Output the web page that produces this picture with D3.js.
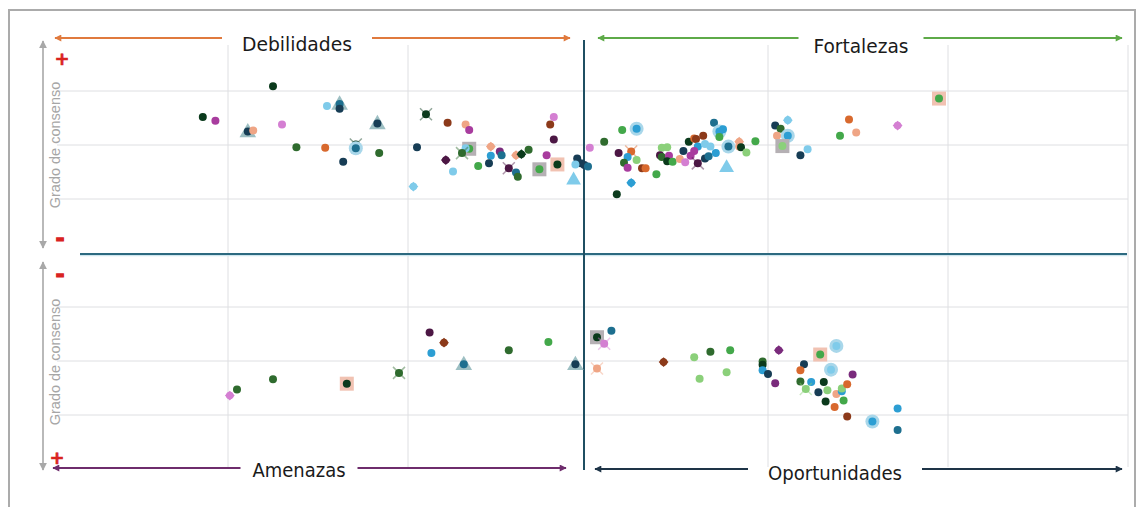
<!DOCTYPE html>
<html><head><meta charset="utf-8">
<script src="https://cdn.jsdelivr.net/npm/d3@7"></script>
<style>html,body{margin:0;padding:0;background:#fff;overflow:hidden}svg{display:block}</style>
</head><body>
<svg id="chart" width="1139" height="507"></svg>
<script>
// ---------- DATA ----------
// [position, consensus, series, marker]
const seriesKeys = ["dg","mg","g","lg","nv","tl","sb","lb","mag","pk","dp","pu","or","br","sa"];
const seriesColors = ["#0B3A1C","#2F6B2E","#43A84A","#8BD07A","#173D55","#1D6F8F","#2C9ED3","#7FCBEA","#A83C9E","#D47FD2","#4C1744","#7A2B7C","#D8692E","#8C3A1A","#EFA585"];

const debilidades = [
  [-1.75,3.09,"dg","o"],[-2.14,2.52,"dg","o"],[-2.07,2.45,"mag","o"],[-1.89,2.25,"nv","t"],[-1.86,2.27,"sa","o"],
  [-1.70,2.38,"pk","o"],[-1.45,2.72,"lb","o"],[-1.38,2.76,"tl","t"],[-1.38,2.67,"nv","o"],[-1.17,2.40,"nv","t"],
  [-1.62,1.96,"mg","o"],[-1.46,1.95,"or","o"],[-1.29,2.01,"dg","x"],[-1.29,1.94,"tl","h"],[-1.16,1.85,"mg","o"],
  [-1.36,1.69,"nv","o"],[-0.90,2.57,"dg","x"],[-0.95,1.96,"nv","o"],[-0.97,1.23,"lb","d"],[-0.78,2.41,"br","o"],
  [-0.68,2.38,"sa","o"],[-0.66,2.28,"mag","o"],[-0.66,1.93,"g","s"],[-0.68,1.94,"lb","o"],[-0.70,1.85,"mg","x"],
  [-0.79,1.72,"dp","d"],[-0.75,1.51,"lb","o"],[-0.61,1.61,"g","o"],[-0.54,1.97,"sa","d"],[-0.54,1.80,"sb","o"],
  [-0.55,1.66,"nv","o"],[-0.49,1.88,"pu","o"],[-0.48,1.81,"tl","o"],[-0.44,1.57,"dp","x"],[-0.40,1.49,"tl","o"],
  [-0.39,1.41,"mg","o"],[-0.40,1.81,"sa","d"],[-0.37,1.83,"dg","d"],[-0.33,1.91,"mg","o"],[-0.27,1.55,"g","s"],
  [-0.17,1.64,"dg","S"],[-0.19,2.52,"pk","o"],[-0.21,2.38,"br","o"],[-0.19,2.10,"dp","o"],[-0.23,1.81,"mag","o"],
  [-0.08,1.35,"lb","T"],[-0.06,1.75,"nv","o"],[-0.04,1.66,"nv","o"],[-0.07,1.64,"lb","o"],[-0.02,1.63,"nv","o"]
];
const fortalezas = [
  [0.00,1.60,"tl","o"],[0.01,1.95,"pk","o"],[0.09,2.06,"mg","o"],[0.19,2.28,"g","o"],[0.27,2.30,"sb","h"],
  [0.17,1.85,"dp","o"],[0.24,1.88,"or","x"],[0.22,1.78,"sb","o"],[0.27,1.72,"lg","o"],[0.20,1.67,"mg","o"],
  [0.22,1.58,"mag","o"],[0.30,1.57,"br","o"],[0.32,1.57,"or","o"],[0.24,1.30,"sb","d"],[0.16,1.09,"dg","o"],
  [0.38,1.46,"g","o"],[0.41,1.95,"lg","o"],[0.44,1.96,"lg","o"],[0.40,1.81,"dp","o"],[0.41,1.78,"mg","o"],
  [0.45,1.80,"mag","o"],[0.44,1.70,"dg","o"],[0.47,1.69,"g","o"],[0.53,1.89,"nv","o"],[0.51,1.74,"sa","o"],
  [0.56,2.06,"dg","o"],[0.59,2.12,"or","o"],[0.60,2.11,"br","o"],[0.64,2.17,"br","o"],[0.61,1.97,"sb","o"],
  [0.59,1.89,"mag","o"],[0.57,1.80,"mag","o"],[0.54,1.68,"pk","o"],[0.61,1.66,"dp","x"],[0.65,2.02,"lb","o"],
  [0.68,1.97,"lb","o"],[0.65,1.75,"nv","o"],[0.67,1.79,"tl","o"],[0.71,1.85,"sb","o"],[0.70,2.41,"tl","o"],
  [0.73,2.25,"sb","h"],[0.75,2.29,"sb","o"],[0.73,2.15,"g","o"],[0.77,1.58,"lb","T"],[0.78,1.97,"tl","h"],
  [0.84,2.06,"sa","d"],[0.84,1.97,"sa","o"],[0.85,1.96,"dg","o"],[0.88,1.86,"lg","o"],[0.93,2.07,"g","o"],
  [1.04,2.36,"nv","o"],[1.07,2.30,"mg","o"],[1.11,2.46,"lb","d"],[1.11,2.17,"sb","h"],[1.05,2.17,"sa","o"],
  [1.08,1.98,"lg","s"],[1.22,1.92,"lb","o"],[1.18,1.81,"nv","o"],[1.45,2.47,"or","o"],[1.40,2.17,"g","o"],
  [1.49,2.23,"sa","o"],[1.72,2.36,"pk","d"],[1.95,2.86,"g","S"]
];
const amenazas = [
  [-1.99,2.64,"pk","d"],[-1.95,2.53,"mg","o"],[-1.75,2.34,"mg","o"],[-1.34,2.42,"dg","S"],[-1.05,2.22,"mg","x"],
  [-0.88,1.47,"dp","o"],[-0.87,1.85,"sb","o"],[-0.80,1.66,"br","d"],[-0.69,2.06,"tl","t"],[-0.44,1.80,"mg","o"],
  [-0.22,1.65,"g","o"],[-0.07,2.06,"nv","t"]
];
const oportunidades = [
  [0.05,1.56,"dg","s"],[0.09,1.68,"pk","x"],[0.05,2.14,"sa","x"],[0.13,1.44,"tl","o"],[0.42,2.02,"br","d"],
  [0.59,1.93,"lg","o"],[0.68,1.83,"mg","o"],[0.79,1.80,"g","o"],[0.62,2.33,"lg","o"],[0.77,2.21,"lg","o"],
  [0.97,2.01,"mg","o"],[0.97,2.07,"dg","o"],[0.97,2.17,"sb","o"],[1.00,2.24,"nv","o"],[1.04,2.41,"pu","o"],
  [1.06,1.80,"pu","d"],[1.29,1.88,"g","S"],[1.38,1.72,"lb","h"],[1.35,2.16,"lb","h"],[1.20,2.06,"nv","o"],
  [1.18,2.17,"or","o"],[1.18,2.38,"mg","o"],[1.24,2.39,"sb","o"],[1.31,2.39,"dg","o"],[1.21,2.52,"lg","x"],
  [1.28,2.58,"nv","o"],[1.33,2.54,"lg","o"],[1.38,2.61,"sa","o"],[1.41,2.56,"sb","o"],[1.41,2.51,"lg","o"],
  [1.44,2.43,"or","o"],[1.47,2.25,"pu","o"],[1.42,2.73,"g","o"],[1.32,2.75,"dg","o"],[1.37,2.85,"or","o"],
  [1.44,3.03,"br","o"],[1.58,3.12,"sb","h"],[1.72,2.88,"sb","o"],[1.72,3.28,"tl","o"]
];
const xGridTicks = [-2,-1,1,2,3];
const yGridTicks = [1,2,3];
const quadrantLabels = ["Debilidades","Fortalezas","Amenazas","Oportunidades"];
const axisTitle = "Grado de consenso";

// ---------- LAYOUT ----------
const svg = d3.select("#chart");
const color = d3.scaleOrdinal().domain(seriesKeys).range(seriesColors);
const x = d3.scaleLinear().domain([-3,3]).range([48,1128]);
const yUp = d3.scaleLinear().domain([0,4]).range([253,37]);
const yLow = d3.scaleLinear().domain([0,4]).range([253,469]);

// frame
svg.append("rect").attr("x",9).attr("y",10).attr("width",1126).attr("height",540)
  .attr("fill","#fff").attr("stroke","#ABABAB").attr("stroke-width",2);

// grid
const grid = svg.append("g");
grid.selectAll(".vg").data(xGridTicks).join("line")
  .attr("x1",d=>x(d)).attr("x2",d=>x(d)).attr("y1",45).attr("y2",467)
  .attr("stroke","#DEDFE2").attr("stroke-width",1);
grid.selectAll(".hgu").data(yGridTicks).join("line")
  .attr("x1",57).attr("x2",1128).attr("y1",d=>yUp(d)).attr("y2",d=>yUp(d))
  .attr("stroke","#DEDFE2").attr("stroke-width",1);
grid.selectAll(".hgl").data(yGridTicks).join("line")
  .attr("x1",57).attr("x2",1128).attr("y1",d=>yLow(d)).attr("y2",d=>yLow(d))
  .attr("stroke","#DEDFE2").attr("stroke-width",1);

// arrow markers
const defs = svg.append("defs");
function mk(id,col,w,h){
  defs.append("marker").attr("id",id).attr("viewBox","0 0 10 10").attr("refX",9).attr("refY",5)
    .attr("markerWidth",w).attr("markerHeight",h).attr("orient","auto-start-reverse")
    .attr("markerUnits","userSpaceOnUse")
    .append("path").attr("d","M0,0L10,5L0,10Z").attr("fill",col);
}
mk("aO","#E07A3E",9,7); mk("aG","#5EAA48",9,7); mk("aP","#6E2C6C",9,7); mk("aN","#1E3447",9,7); mk("aY","#A8A8A8",8,8);

// quadrant label arrows
const arrows = [
  {label:quadrantLabels[0], x1:55, x2:570, y:38, col:"#E07A3E", m:"aO", cx:297, gap:150, by:51, len:110},
  {label:quadrantLabels[1], x1:598, x2:1122, y:38, col:"#5EAA48", m:"aG", cx:861, gap:125, by:53, len:95},
  {label:quadrantLabels[2], x1:53, x2:566, y:468, col:"#6E2C6C", m:"aP", cx:299, gap:117, by:477, len:93},
  {label:quadrantLabels[3], x1:595, x2:1122, y:469, col:"#1E3447", m:"aN", cx:835, gap:174, by:480, len:134}
];
const ag = svg.append("g");
arrows.forEach(a=>{
  ag.append("line").attr("x1",a.x1).attr("x2",a.cx-a.gap/2).attr("y1",a.y).attr("y2",a.y)
    .attr("stroke",a.col).attr("stroke-width",2).attr("marker-start",`url(#${a.m})`);
  ag.append("line").attr("x1",a.cx+a.gap/2).attr("x2",a.x2).attr("y1",a.y).attr("y2",a.y)
    .attr("stroke",a.col).attr("stroke-width",2).attr("marker-end",`url(#${a.m})`);
  ag.append("text").attr("x",a.cx).attr("y",a.by).attr("text-anchor","middle")
    .attr("font-family","'Liberation Sans Narrow','DejaVu Sans Condensed',Roboto,sans-serif")
    .attr("font-size",20).attr("fill","#1a1a1a")
    .attr("textLength",a.len).attr("lengthAdjust","spacingAndGlyphs").text(a.label);
});

// y axis arrows + titles
[[41,248,145],[262,470,362]].forEach(([a,b,c])=>{
  svg.append("line").attr("x1",43).attr("x2",43).attr("y1",a).attr("y2",b)
    .attr("stroke","#A8A8A8").attr("stroke-width",1.6)
    .attr("marker-start","url(#aY)").attr("marker-end","url(#aY)");
  svg.append("text").attr("transform",`translate(60,${c}) rotate(-90)`).attr("text-anchor","middle")
    .attr("font-family","'Liberation Sans',Arial,sans-serif").attr("font-size",14.5)
    .attr("fill","#A6A6A6").text(axisTitle);
});
const signs = [["+",62,58],["-",60,238],["-",60,274],["+",57,457]];
svg.selectAll(".sign").data(signs).join("text")
  .attr("x",d=>d[1]).attr("y",d=>d[2]).attr("text-anchor","middle").attr("dominant-baseline","central")
  .attr("font-family","'DejaVu Sans',sans-serif").attr("font-weight","bold")
  .attr("font-size",d=>d[0]==="+"?18:22).attr("fill","#D9231F")
  .attr("stroke","#D9231F").attr("stroke-width",d=>d[0]==="+"?0.6:1.2).text(d=>d[0]);

// divider lines
svg.append("line").attr("x1",80).attr("x2",1127).attr("y1",255.5).attr("y2",255.5)
  .attr("stroke","#CFE6EE").attr("stroke-width",1.5);
svg.append("line").attr("x1",80).attr("x2",1127).attr("y1",254).attr("y2",254)
  .attr("stroke","#2D6A80").attr("stroke-width",2.2);
svg.append("line").attr("x1",584).attr("x2",584).attr("y1",40).attr("y2",470)
  .attr("stroke","#1F4F62").attr("stroke-width",2);

// points
function drawPoints(data, y){
  const g = svg.append("g");
  data.forEach(d=>{
    const cx = x(d[0]), cy = y(d[1]), c = color(d[2]), m = d[3];
    if(m==="t"){
      g.append("path").attr("d",d3.symbol(d3.symbolTriangle,120)()).attr("transform",`translate(${cx},${cy+1})`).attr("fill","#9DBFC3");
    } else if(m==="s"||m==="S"){
      g.append("rect").attr("x",cx-7).attr("y",cy-7).attr("width",14).attr("height",14)
        .attr("fill",m==="s"?"#B5B0B4":"#F1C2B2");
    } else if(m==="x"){
      g.append("path").attr("d",`M${cx-6},${cy-6}L${cx+6},${cy+6}M${cx-6},${cy+6}L${cx+6},${cy-6}`)
        .attr("stroke",c).attr("stroke-opacity",0.45).attr("stroke-width",1.5);
    } else if(m==="h"){
      g.append("circle").attr("cx",cx).attr("cy",cy).attr("r",7).attr("fill","#A9D7EA");
    }
    if(m==="T"){
      g.append("path").attr("d",d3.symbol(d3.symbolTriangle,95)()).attr("transform",`translate(${cx},${cy})`).attr("fill",c);
    } else if(m==="d"){
      g.append("path").attr("d",d3.symbol(d3.symbolSquare,48)()).attr("transform",`translate(${cx},${cy}) rotate(45)`).attr("fill",c);
      g.append("circle").attr("cx",cx).attr("cy",cy).attr("r",3.8).attr("fill",c);
    } else {
      g.append("circle").attr("cx",cx).attr("cy",cy).attr("r",4).attr("fill",c);
    }
  });
}
drawPoints(debilidades, yUp);
drawPoints(fortalezas, yUp);
drawPoints(amenazas, yLow);
drawPoints(oportunidades, yLow);
</script>
</body></html>
